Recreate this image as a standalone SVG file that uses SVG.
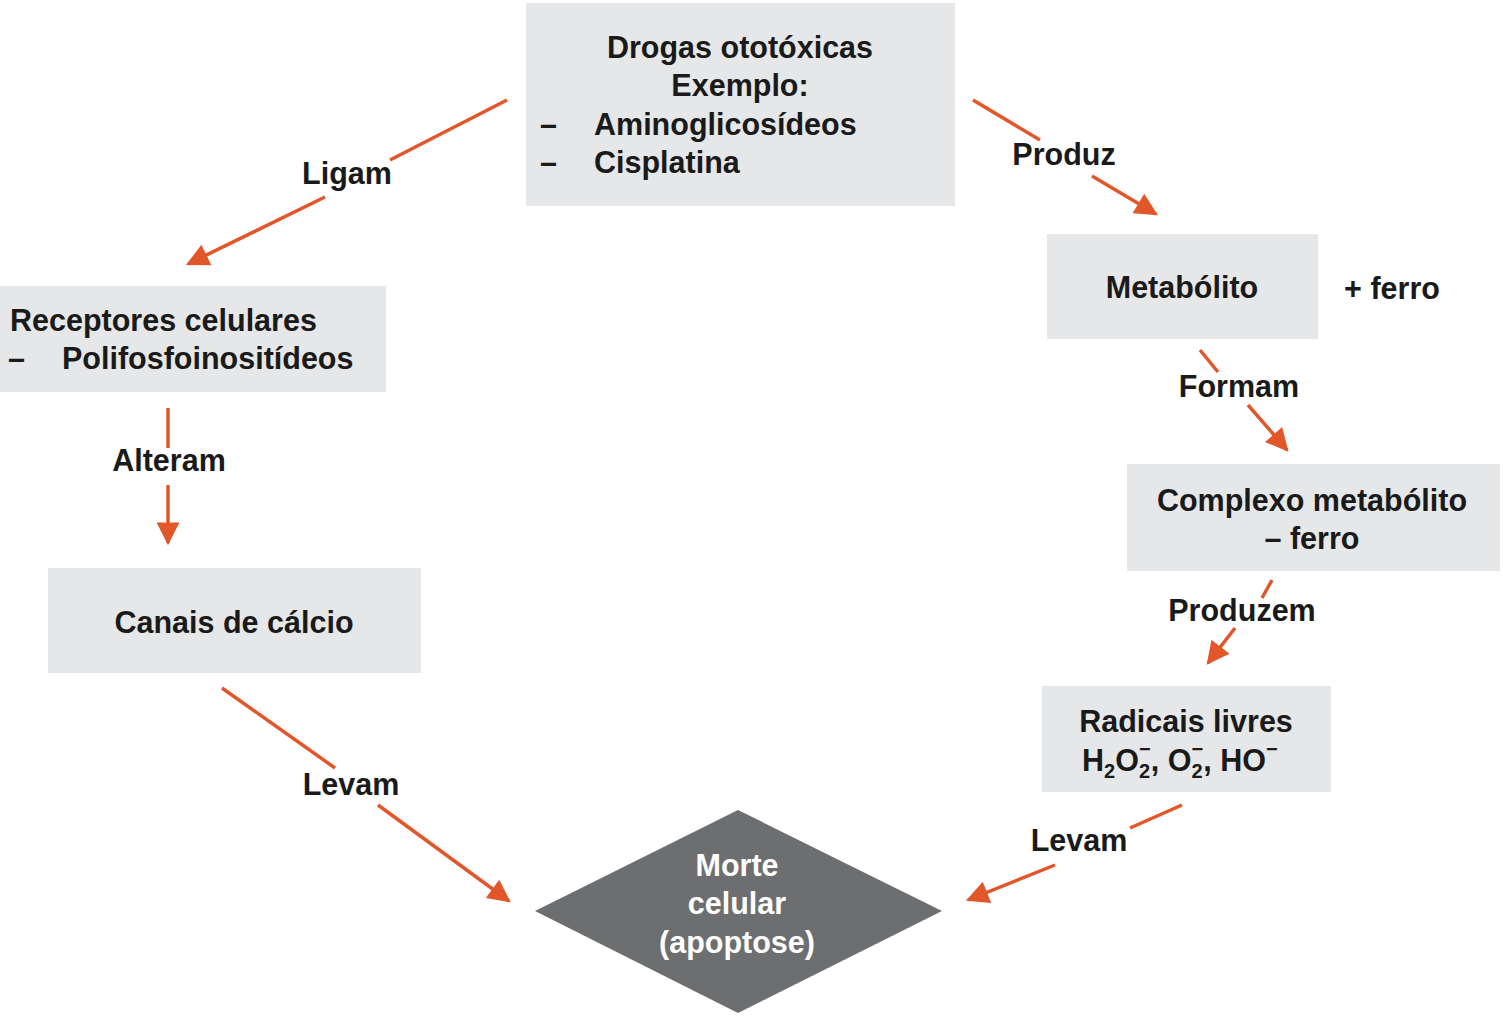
<svg xmlns="http://www.w3.org/2000/svg" width="1503" height="1023" viewBox="0 0 1503 1023">
<defs>
<marker id="ah" viewBox="0 0 10 10" refX="9" refY="5" markerWidth="7" markerHeight="6.5" orient="auto" markerUnits="strokeWidth"><path d="M0,0 L10,5 L0,10 z" fill="#e2572a"/></marker>
</defs>
<style>
.box{fill:#e6e7e8}
.t{font-family:"Liberation Sans",Arial,sans-serif;font-weight:bold;font-size:30.5px;fill:#1a1a1a}
.w{fill:#ffffff}
.c path{stroke:#e2572a;stroke-width:3.5;fill:none}
</style>
<rect width="1503" height="1023" fill="#fff"/>
<g id="drogas"><rect class="box" x="526" y="3" width="429" height="203"/>
<text class="t" x="740" y="58" text-anchor="middle">Drogas ototóxicas</text>
<text class="t" x="740" y="96" text-anchor="middle">Exemplo:</text>
<text class="t" x="540" y="135">–</text><text class="t" x="594" y="135">Aminoglicosídeos</text>
<text class="t" x="540" y="173">–</text><text class="t" x="594" y="173">Cisplatina</text></g>
<g id="receptores"><rect class="box" x="0" y="286" width="386" height="106"/>
<text class="t" x="10" y="331">Receptores celulares</text>
<text class="t" x="8" y="369">–</text><text class="t" x="62" y="369">Polifosfoinositídeos</text></g>
<g id="canais"><rect class="box" x="48" y="568" width="373" height="105"/>
<text class="t" x="234" y="633" text-anchor="middle">Canais de cálcio</text></g>
<g id="morte"><polygon points="535,911 738,810 942,911 738,1013" fill="#6d6e70"/>
<text class="t w" x="737" y="876" text-anchor="middle">Morte</text>
<text class="t w" x="737" y="914" text-anchor="middle">celular</text>
<text class="t w" x="737" y="953" text-anchor="middle">(apoptose)</text></g>
<g id="metabolito"><rect class="box" x="1047" y="234" width="271" height="105"/>
<text class="t" x="1182" y="298" text-anchor="middle">Metabólito</text></g>
<g id="ferro"><text class="t" x="1392" y="299" text-anchor="middle">+ ferro</text></g>
<g id="complexo"><rect class="box" x="1127" y="464" width="373" height="107"/>
<text class="t" x="1312" y="511" text-anchor="middle">Complexo metabólito</text>
<text class="t" x="1312" y="549" text-anchor="middle">– ferro</text></g>
<g id="radicais"><rect class="box" x="1042" y="686" width="289" height="106"/>
<text class="t" x="1186" y="732" text-anchor="middle">Radicais livres</text>
<text class="t" x="1082" y="771">H<tspan font-size="20" dy="7">2</tspan><tspan dy="-7">O</tspan><tspan font-size="20" dy="7">2</tspan><tspan font-size="20" dx="-11" dy="-22">−</tspan><tspan dy="15">, O</tspan><tspan font-size="20" dy="7">2</tspan><tspan font-size="20" dx="-11" dy="-22">−</tspan><tspan dy="15">, HO</tspan><tspan font-size="20" dy="-15">−</tspan></text></g>
<g id="connectors" class="c">
<path d="M507,100 L390,160 M325,197 L188,264" marker-end="url(#ah)"/>
<path d="M168,408 L168,448 M168,485 L168,543" marker-end="url(#ah)"/>
<path d="M222,688 L335,768 M378,805 L509,901" marker-end="url(#ah)"/>
<path d="M1182,805 L1130,828 M1055,865 L968,900" marker-end="url(#ah)"/>
<path d="M1272,580 L1262,598 M1235,628 L1208,663" marker-end="url(#ah)"/>
<path d="M1200,350 L1218,372 M1248,405 L1287,450" marker-end="url(#ah)"/>
<path d="M973,100 L1040,140 M1092,176 L1156,214" marker-end="url(#ah)"/>
</g>
<g id="labels">
<text class="t" x="347" y="184" text-anchor="middle">Ligam</text>
<text class="t" x="169" y="471" text-anchor="middle">Alteram</text>
<text class="t" x="351" y="795" text-anchor="middle">Levam</text>
<text class="t" x="1079" y="851" text-anchor="middle">Levam</text>
<text class="t" x="1242" y="621" text-anchor="middle">Produzem</text>
<text class="t" x="1239" y="397" text-anchor="middle">Formam</text>
<text class="t" x="1064" y="165" text-anchor="middle">Produz</text>
</g>
</svg>
